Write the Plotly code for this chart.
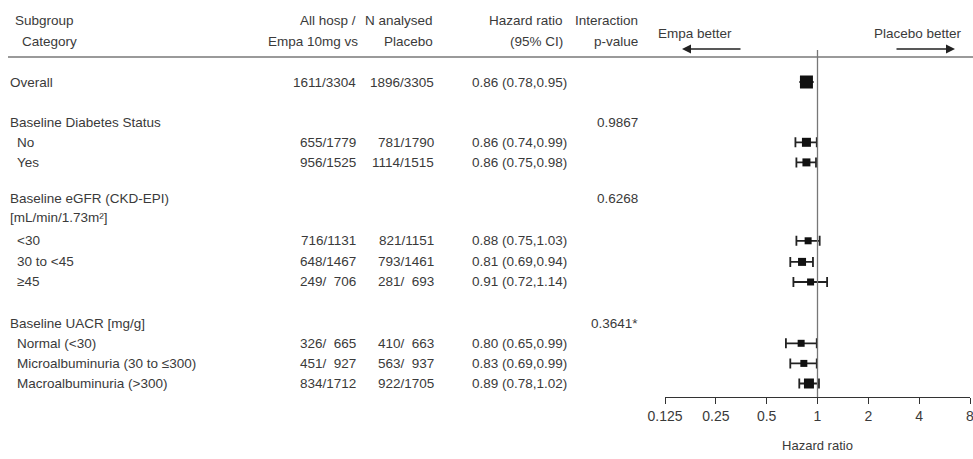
import math
import plotly.graph_objects as go

# ---- table / forest data -------------------------------------------------
labels = [
    "Overall",
    "Baseline Diabetes Status", "No", "Yes",
    "Baseline eGFR (CKD-EPI)", "[mL/min/1.73m\u00b2]",
    "&lt;30", "30 to &lt;45", "\u226545",
    "Baseline UACR [mg/g]",
    "Normal (&lt;30)", "Microalbuminuria (30 to \u2264300)", "Macroalbuminuria (&gt;300)",
]
is_sub = [False, False, True, True, False, False, True, True, True, False, True, True, True]

# estimates (None for heading rows)
empa_n = ["1611/3304", None, "655/1779", "956/1525", None, None,
          "716/1131", "648/1467", "249/\u2007706", None,
          "326/\u2007665", "451/\u2007927", "834/1712"]
plac_n = ["1896/3305", None, "781/1790", "1114/1515", None, None,
          "821/1151", "793/1461", "281/\u2007693", None,
          "410/\u2007663", "563/\u2007937", "922/1705"]
hr = [0.86, None, 0.86, 0.86, None, None, 0.88, 0.81, 0.91, None, 0.80, 0.83, 0.89]
lo = [0.78, None, 0.74, 0.75, None, None, 0.75, 0.69, 0.72, None, 0.65, 0.69, 0.78]
hi = [0.95, None, 0.99, 0.98, None, None, 1.03, 0.94, 1.14, None, 0.99, 0.99, 1.02]
pval = [None, "0.9867", None, None, "0.6268", None, None, None, None, "0.3641*", None, None, None]

tick_vals = [0.125, 0.25, 0.5, 1, 2, 4, 8]
tick_text = ["0.125", "0.25", "0.5", "1", "2", "4", "8"]

# ---- layout helpers ------------------------------------------------------
row_pos = [0, 2, 3, 4, 5.8, 6.75, 7.9, 8.95, 9.95, 12, 13, 14, 15]
marker_px = [13, 9, 8, 7, 8, 7, 7, 7, 10]

W, H = 973, 459
TOP_PX, STEP_PX = 82, 20.1


def r(px):
    """pixel row -> y data coordinate"""
    return (px - TOP_PX) / STEP_PX


FONT = "Liberation Sans, Arial, sans-serif"
TXT = "#3a3a3a"
FS = 13.5

fig = go.Figure()

# forest points
est_idx = [i for i, v in enumerate(hr) if v is not None]
for k, i in enumerate(est_idx):
    fig.add_trace(go.Scatter(
        x=[hr[i]], y=[row_pos[i]], xaxis="x2", yaxis="y",
        mode="markers",
        marker=dict(symbol="square", size=marker_px[k], color="#111111"),
        error_x=dict(type="data", symmetric=False,
                     array=[hi[i] - hr[i]], arrayminus=[hr[i] - lo[i]],
                     color="#222222", thickness=1.8,
                     width=0 if i == 0 else 5),
        showlegend=False, hoverinfo="skip",
    ))

ann = []


def txt(x, y, s, anchor="left", size=FS):
    ann.append(dict(x=x, y=y, xref="x", yref="y", text=s, showarrow=False,
                    xanchor=anchor, yanchor="middle",
                    font=dict(family=FONT, size=size, color=TXT)))


# column headers
txt(13, r(20), "Subgroup")
txt(20, r(41), "Category")
txt(358, r(20), "All hosp /", "right")
txt(360, r(41), "Empa 10mg vs", "right")
txt(435, r(20), "N analysed", "right")
txt(435, r(41), "Placebo", "right")
txt(565, r(20), "Hazard ratio", "right")
txt(565, r(41), "(95% CI)", "right")
txt(640, r(20), "Interaction", "right")
txt(640, r(41), "p-value", "right")
txt(695, r(33), "Empa better", "center")
txt(918, r(33), "Placebo better", "center")

# table body
for i, lab in enumerate(labels):
    y = row_pos[i]
    txt(15 if is_sub[i] else 8, y, lab)
    if empa_n[i]:
        txt(358, y, empa_n[i], "right")
        txt(436, y, plac_n[i], "right")
        txt(470, y, f"{hr[i]:.2f} ({lo[i]:.2f},{hi[i]:.2f})")
    if pval[i]:
        txt(640, y, pval[i], "right")

# direction arrows
for head, tail in [(682, 742), (955, 895)]:
    ann.append(dict(x=head, y=r(49), ax=tail, ay=r(49), xref="x", yref="y",
                    axref="x", ayref="y", text="", showarrow=True,
                    arrowhead=2, arrowsize=1.2, arrowwidth=1.5,
                    arrowcolor="#222222"))

shapes = [
    # header rule
    dict(type="line", xref="x", yref="y", x0=8, x1=973, y0=r(57), y1=r(57),
         line=dict(color="#9a9a9a", width=2)),
    # no-effect line
    dict(type="line", xref="x2", yref="y", x0=1, x1=1, y0=r(50), y1=r(397),
         line=dict(color="#777777", width=1.3)),
]

fig.update_layout(
    width=W, height=H,
    margin=dict(l=0, r=0, t=0, b=0, autoexpand=False),
    paper_bgcolor="white", plot_bgcolor="white",
    font=dict(family=FONT, size=FS, color=TXT),
    xaxis=dict(range=[0, W], domain=[0, 1], visible=False, fixedrange=True,
               automargin=False),
    yaxis=dict(range=[r(H), r(0)], domain=[0, 1], visible=False, fixedrange=True,
               automargin=False),
    xaxis2=dict(
        type="log", range=[math.log10(0.125), math.log10(8)],
        domain=[665 / W, 970 / W],
        anchor="free", position=1 - 397 / H, automargin=False,
        showline=True, linecolor="#333333", linewidth=1.3,
        ticks="outside", ticklen=6, tickwidth=1.3, tickcolor="#333333",
        tickvals=tick_vals, ticktext=tick_text, ticklabeloverflow="allow",
        tickfont=dict(family=FONT, size=14, color=TXT),
        showgrid=False, zeroline=False, fixedrange=True,
        title=dict(text="Hazard ratio", standoff=17,
                   font=dict(family=FONT, size=13, color=TXT)),
    ),
    annotations=ann,
    shapes=shapes,
)

fig.write_html("out.html")
